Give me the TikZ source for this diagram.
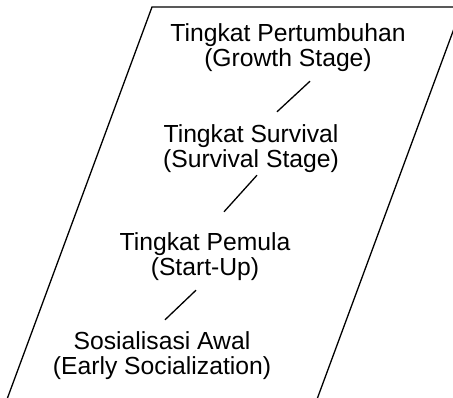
\documentclass[tikz,border=0pt]{standalone}
\usepackage{fontspec}
\setmainfont{Liberation Sans}
\usetikzlibrary{positioning}

\begin{document}
\begin{tikzpicture}[x=1pt, y=1pt,
    stage/.style={align=center, inner sep=0pt, font=\fontsize{24.7}{25}\selectfont},
    link/.style={line width=1.3pt}]
      \clip (0,0) rectangle (453,397);

      \draw[link] (6,-5)--(152,390)--(462,390)--(316,-5)--cycle;

      \node[stage] at (288,349) (growth) {Tingkat Pertumbuhan\\(Growth Stage)};
      \node[stage, below of=growth, node distance=101pt, xshift=-37pt] (survival) {Tingkat Survival\\(Survival Stage)};
      \node[stage, below of=survival, node distance=108pt, xshift=-46pt] (pemula) {Tingkat Pemula\\(Start-Up)};
      \node[stage, below of=pemula, node distance=99pt, xshift=-43pt] (sosial) {Sosialisasi Awal\\(Early Socialization)};


      \draw[link] ([shift={(22,-9)}]growth.south)--([shift={(26,13)}]survival.north);
      \draw[link] ([shift={(6,-2)}]survival.south)--([shift={(19,21)}]pemula.north);
      \draw[link] ([shift={(-9,-9)}]pemula.south)--([shift={(3,12)}]sosial.north);
    \end{tikzpicture}
\end{document}
